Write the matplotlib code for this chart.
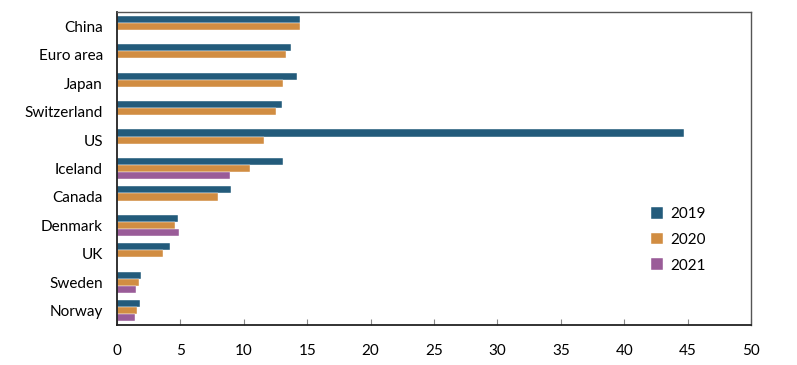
import numpy as np
import matplotlib
matplotlib.use("Agg")
import matplotlib.pyplot as plt

# data
countries = ["China", "Euro area", "Japan", "Switzerland", "US", "Iceland",
             "Canada", "Denmark", "UK", "Sweden", "Norway"]
v2019 = [14.4, 13.7, 14.2, 13.0, 44.7, 13.1, 9.0, 4.8, 4.15, 1.9, 1.8]
v2020 = [14.4, 13.3, 13.1, 12.5, 11.6, 10.5, 8.0, 4.6, 3.6, 1.7, 1.6]
v2021 = [np.nan, np.nan, np.nan, np.nan, np.nan, 8.9, np.nan, 4.9, np.nan, 1.5, 1.4]
years = ["2019", "2020", "2021"]
colors = ["#235b7b", "#d18d42", "#9a5c98"]

plt.rcParams['font.family'] = ['Lato', 'DejaVu Sans']

fig = plt.figure(figsize=(7.97, 3.65), dpi=100)
ax = fig.add_axes([0.1468, 0.1096, 0.7955, 0.8574])

y = np.arange(len(countries))
h = 0.25
for i, (vals, lab, c) in enumerate(zip([v2019, v2020, v2021], years, colors)):
    ax.barh(y + (i - 1) * h, vals, height=h, color=c, label=lab,
            edgecolor="white", linewidth=0.3)

ax.set_ylim(len(countries) - 0.5, -0.5)
ax.set_xlim(0, 50)
ax.set_yticks(y)
ax.set_yticklabels(countries, fontsize=11)
ax.set_xticks(range(0, 51, 5))
ax.tick_params(axis="x", direction="in", length=4, color="#888888", labelsize=11, pad=14)
ax.tick_params(axis="y", length=0, pad=10)

for side in ["top", "right"]:
    ax.spines[side].set_color("#555555")
    ax.spines[side].set_linewidth(1)
for side in ["left", "bottom"]:
    ax.spines[side].set_color("#222222")
    ax.spines[side].set_linewidth(1.3)

ax.legend(loc="center left", bbox_to_anchor=(0.82, 0.272), frameon=False,
          fontsize=11, handlelength=0.8, handleheight=0.8, labelspacing=0.75,
          handletextpad=0.5)

fig.savefig("out.png", dpi=100)
